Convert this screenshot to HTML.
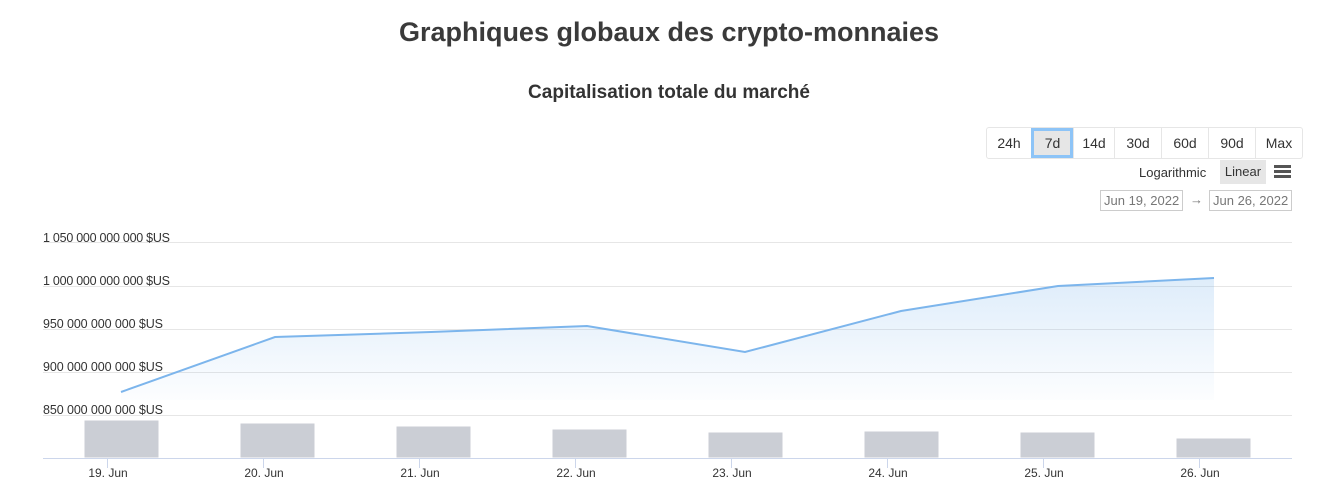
<!DOCTYPE html>
<html><head><meta charset="utf-8"><style>
body{margin:0;width:1338px;height:484px;background:#fff;font-family:"Liberation Sans",sans-serif;color:#333;position:relative;overflow:hidden}
.t{position:absolute;left:0;width:1338px;text-align:center}
.btns{position:absolute;left:986px;top:127px;height:30px;border:1px solid #e6e6e6;border-radius:3px;display:flex}
.btns div{border-left:1px solid #e6e6e6;text-align:center;line-height:30px;font-size:14px;color:#333;box-sizing:border-box}
.btns div:first-child{border-left:none}
.btns .a{background:#e6e6e6;outline:3px solid #8dc4f7;outline-offset:-3px}
.d{position:absolute;top:190px;height:19px;border:1px solid #ccc;font-size:13px;color:#777;line-height:19px;padding:0 3px}
</style></head><body>
<div class="t" style="top:17px;font-size:27px;font-weight:bold;color:#3a3a3a">Graphiques globaux des crypto-monnaies</div>
<div class="t" style="top:82px;font-size:19px;font-weight:bold;color:#333">Capitalisation totale du marché</div>
<div class="btns"><div style="width:44px">24h</div><div class="a" style="width:42px">7d</div><div style="width:41px">14d</div><div style="width:47px">30d</div><div style="width:47px">60d</div><div style="width:47px">90d</div><div style="width:47px">Max</div></div>
<div style="position:absolute;left:1139px;top:165px;font-size:13px">Logarithmic</div>
<div style="position:absolute;left:1220px;top:160px;width:46px;height:24px;background:#e6e6e6;font-size:13px;line-height:24px;text-align:center">Linear</div>
<div style="position:absolute;left:1274px;top:165px;width:17px;height:3px;background:#555;box-shadow:0 5px 0 #555,0 10px 0 #555"></div>
<div class="d" style="left:1100px">Jun 19, 2022</div>
<div style="position:absolute;left:1190px;top:192px;font-size:13px;color:#777">→</div>
<div class="d" style="left:1209px">Jun 26, 2022</div>
<svg width="1338" height="484" style="position:absolute;left:0;top:0" font-family="Liberation Sans,sans-serif">
<defs><linearGradient id="g" x1="0" y1="0" x2="0" y2="1"><stop offset="0" stop-color="#7cb5ec" stop-opacity="0.25"/><stop offset="1" stop-color="#7cb5ec" stop-opacity="0.02"/></linearGradient></defs>
<g stroke="#e6e6e6" stroke-width="1">
<line x1="43" x2="1292" y1="242.5" y2="242.5"/><line x1="43" x2="1292" y1="286.5" y2="286.5"/><line x1="43" x2="1292" y1="329.5" y2="329.5"/><line x1="43" x2="1292" y1="372.5" y2="372.5"/><line x1="43" x2="1292" y1="415.5" y2="415.5"/></g>
<g font-size="12.5" fill="#333">
<text x="43" y="242" textLength="127">1 050 000 000 000 $US</text><text x="43" y="285" textLength="127">1 000 000 000 000 $US</text><text x="43" y="328" textLength="120">950 000 000 000 $US</text><text x="43" y="371" textLength="120">900 000 000 000 $US</text><text x="43" y="414" textLength="120">850 000 000 000 $US</text></g>
<polygon points="121,392 275,337 431,332 587,326 745,352 901,311 1058,286 1214,278 1214,400 121,400" fill="url(#g)"/>
<polyline points="121,392 275,337 431,332 587,326 745,352 901,311 1058,286 1214,278" fill="none" stroke="#7cb5ec" stroke-width="2"/>
<g fill="#cbced5" stroke="#fff" stroke-width="1">
<rect x="84" y="420" width="75" height="38"/><rect x="240" y="423" width="75" height="35"/><rect x="396" y="426" width="75" height="32"/><rect x="552" y="429" width="75" height="29"/><rect x="708" y="432" width="75" height="26"/><rect x="864" y="431" width="75" height="27"/><rect x="1020" y="432" width="75" height="26"/><rect x="1176" y="438" width="75" height="20"/></g>
<line x1="43" x2="1292" y1="458.5" y2="458.5" stroke="#ccd6eb"/>
<g stroke="#ccd6eb"><line x1="107.5" x2="107.5" y1="458" y2="468"/><line x1="263.5" x2="263.5" y1="458" y2="468"/><line x1="419.5" x2="419.5" y1="458" y2="468"/><line x1="575.5" x2="575.5" y1="458" y2="468"/><line x1="731.5" x2="731.5" y1="458" y2="468"/><line x1="887.5" x2="887.5" y1="458" y2="468"/><line x1="1043.5" x2="1043.5" y1="458" y2="468"/><line x1="1199.5" x2="1199.5" y1="458" y2="468"/></g>
<g font-size="12" fill="#333" text-anchor="middle">
<text x="108" y="477">19. Jun</text><text x="264" y="477">20. Jun</text><text x="420" y="477">21. Jun</text><text x="576" y="477">22. Jun</text><text x="732" y="477">23. Jun</text><text x="888" y="477">24. Jun</text><text x="1044" y="477">25. Jun</text><text x="1200" y="477">26. Jun</text></g>
</svg>
</body></html>
